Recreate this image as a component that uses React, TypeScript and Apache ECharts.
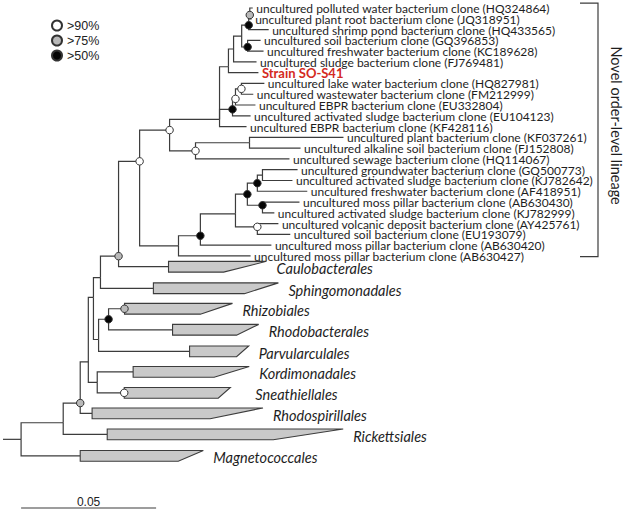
import React, { useEffect, useRef } from "react";
import * as echarts from "echarts";

// ---------- data ----------
const LEAF_IDS = [
  "l1", "l2", "l3", "l4", "l5", "l6", "strain", "l8", "l9", "l10", "l11", "l12",
  "l13", "l14", "l15", "l16", "l17", "l18", "l19", "l20", "l21", "l22", "l23", "l24",
];
const LEAF_LABELS = [
  "uncultured polluted water bacterium clone (HQ324864)",
  "uncultured plant root bacterium clone (JQ318951)",
  "uncultured shrimp pond bacterium clone (HQ433565)",
  "uncultured soil bacterium clone (GQ396853)",
  "uncultured freshwater bacterium clone (KC189628)",
  "uncultured sludge bacterium clone (FJ769481)",
  "Strain SO-S41",
  "uncultured lake water bacterium clone (HQ827981)",
  "uncultured wastewater bacterium clone (FM212999)",
  "uncultured EBPR bacterium clone (EU332804)",
  "uncultured activated sludge bacterium clone (EU104123)",
  "uncultured EBPR bacterium clone (KF428116)",
  "uncultured plant bacterium clone (KF037261)",
  "uncultured alkaline soil bacterium clone (FJ152808)",
  "uncultured sewage bacterium clone (HQ114067)",
  "uncultured groundwater bacterium clone (GQ500773)",
  "uncultured activated sludge bacterium clone (KJ782642)",
  "uncultured freshwater bacterium clone (AF418951)",
  "uncultured moss pillar bacterium clone (AB630430)",
  "uncultured activated sludge bacterium clone (KJ782999)",
  "uncultured volcanic deposit bacterium clone (AY425761)",
  "uncultured soil bacterium clone (EU193079)",
  "uncultured moss pillar bacterium clone (AB630420)",
  "uncultured moss pillar bacterium clone (AB630427)",
];
const FOCAL_LEAF = "strain";

// [node, parent, branch length (substitutions/site), bootstrap class w=>90 g=>75 b=>50]
const EDGES: [string, string, number, string][] = [
  ["root", "", 0.0067, ""],
  ["A", "root", 0.0156, ""],
  ["Mag", "root", 0.0219, ""],
  ["B", "A", 0.0063, "g"],
  ["Ric", "A", 0.0163, ""],
  ["C", "B", 0.003, ""],
  ["Rsp", "B", 0.0044, ""],
  ["D", "C", 0.0019, ""],
  ["E", "C", 0.0033, ""],
  ["F", "D", 0.0026, ""],
  ["G", "D", 0.0019, ""],
  ["H", "F", 0.0067, "g"],
  ["Sph", "F", 0.0196, ""],
  ["J", "H", 0.0078, "w"],
  ["Cau", "H", 0.0185, ""],
  ["K", "J", 0.0111, "w"],
  ["L", "J", 0.0144, ""],
  ["Q1", "K", 0.0185, ""],
  ["N", "K", 0.0096, "w"],
  ["R", "Q1", 0.0033, ""],
  ["S3", "Q1", 0.0048, "b"],
  ["l12", "Q1", 0.01, ""],
  ["R2", "R", 0.0019, ""],
  ["strain", "R", 0.0111, ""],
  ["P", "R2", 0.003, ""],
  ["l6", "R2", 0.0085, ""],
  ["P1", "P", 0.0026, "b"],
  ["P2", "P", 0.0022, "b"],
  ["P0", "P1", 0.0004, "g"],
  ["l3", "P1", 0.0074, ""],
  ["l1", "P0", 0.0011, ""],
  ["l2", "P0", 0.0007, ""],
  ["l4", "P2", 0.0048, ""],
  ["l5", "P2", 0.0059, ""],
  ["S2", "S3", 0.0011, "w"],
  ["l11", "S3", 0.0067, ""],
  ["S1", "S2", 0.0022, "w"],
  ["l10", "S2", 0.0074, ""],
  ["l8", "S1", 0.0085, ""],
  ["l9", "S1", 0.0044, ""],
  ["N2", "N", 0.02, ""],
  ["l15", "N", 0.0348, ""],
  ["l13", "N2", 0.0348, ""],
  ["l14", "N2", 0.0189, ""],
  ["T", "L", 0.0081, "b"],
  ["l24", "L", 0.0267, ""],
  ["U", "T", 0.013, ""],
  ["l23", "T", 0.0263, ""],
  ["V", "U", 0.0044, "b"],
  ["W", "U", 0.0081, "w"],
  ["X", "V", 0.0037, "b"],
  ["Y", "V", 0.0056, "b"],
  ["X2", "X", 0.0019, ""],
  ["l18", "X", 0.0185, ""],
  ["l16", "X2", 0.013, ""],
  ["l17", "X2", 0.0111, ""],
  ["l19", "Y", 0.0137, ""],
  ["l20", "Y", 0.0044, ""],
  ["l21", "W", 0.0078, ""],
  ["l22", "W", 0.0122, ""],
  ["I", "G", 0.0037, "b"],
  ["Par", "G", 0.0337, ""],
  ["Rhz", "I", 0.0059, "g"],
  ["Rhb", "I", 0.0237, ""],
  ["Kor", "E", 0.0133, ""],
  ["Sne", "E", 0.01, "w"],
];

// collapsed orders
const CLADE_IDS = ["Cau", "Sph", "Rhz", "Rhb", "Par", "Kor", "Sne", "Rsp", "Ric", "Mag"];
const CLADE_NAMES = [
  "Caulobacterales", "Sphingomonadales", "Rhizobiales", "Rhodobacterales", "Parvularculales",
  "Kordimonadales", "Sneathiellales", "Rhodospirillales", "Rickettsiales", "Magnetococcales",
];
const CLADE_ROWS = [24, 26, 27.9, 29.85, 31.85, 33.75, 35.7, 37.6, 39.55, 41.55];
const CLADE_DEEPEST = [0.0363, 0.0463, 0.04, 0.0319, 0.0219, 0.043, 0.0393, 0.0633, 0.0874, 0.0456];
const CLADE_SHALLOWEST = [0.0204, 0.0337, 0.0281, 0.0237, 0.0174, 0.03, 0.0348, 0.0437, 0.0615, 0.0363];

const SUPPORT_CLASSES = ["w", "g", "b"];
const SUPPORT_LABELS = [">90%", ">75%", ">50%"];
const SCALE_BAR_LENGTH = 0.05;
const BRACKET_LABEL = "Novel order-level lineage";

// ---------- layout / style ----------
const W = 625;
const H = 513;
const PX_PER_UNIT = 2700;
const ROW_PX = 10.78;
const X0_PX = 3;
const Y0_PX = 8;
const NODE_ANCHOR: Record<string, number> = {
  A: 0.63, B: 0.8, C: 0.76, D: 0.32, F: 0.67, G: 0.63, H: 0.9, J: 0.27, K: 0.34,
  Q1: 0.88, R: 0.75, P1: 0.7, P0: 0.65, P2: 0.62, S2: 0.62, S3: 0.62, T: 0.7, U: 0.6,
  W: 0.3, Y: 0.3,
};
const CLADE_LABEL_GAP: Record<string, number> = { Sne: 25 };
const LINE = "#3c3c3c";
const TEXT = "#1e1e1e";
const SUPPORT_FILL: Record<string, string> = { w: "#ffffff", g: "#b9b9b9", b: "#050505" };
const TREE_FONT = "Lato";
const PLAIN_FONT = "Liberation Sans";

function layoutTree() {
  const len: Record<string, number> = {};
  const support: Record<string, string> = {};
  const children: Record<string, string[]> = {};
  EDGES.forEach(([id, p, l, s]) => {
    len[id] = l;
    support[id] = s;
    if (p) (children[p] = children[p] || []).push(id);
  });
  const rowOf: Record<string, number> = {};
  LEAF_IDS.forEach((id, i) => (rowOf[id] = i));
  CLADE_IDS.forEach((id, i) => (rowOf[id] = CLADE_ROWS[i]));
  const x: Record<string, number> = {};
  const y: Record<string, number> = {};
  const visit = (id: string, px: number) => {
    x[id] = px + len[id];
    const ch = children[id];
    if (!ch) {
      y[id] = rowOf[id];
      return;
    }
    ch.forEach((c) => visit(c, x[id]));
    const ys = ch.map((c) => y[c]);
    const lo = Math.min(...ys);
    const hi = Math.max(...ys);
    y[id] = lo + (NODE_ANCHOR[id] ?? 0.5) * (hi - lo);
  };
  visit("root", 0);
  return { children, support, x, y };
}

function buildOption() {
  const { children, x, y } = layoutTree();

  const branches: any[] = [{ coords: [[0, y.root], [x.root, y.root]] }];
  Object.keys(children).forEach((p) => {
    children[p].forEach((c) => {
      branches.push({ coords: [[x[p], y[p]], [x[p], y[c]], [x[c], y[c]]] });
    });
  });

  const leafData = LEAF_IDS.map((id, i) => [x[id], y[id], i]);
  const cladeData = CLADE_IDS.map((id, i) => [
    x[id], CLADE_ROWS[i], x[id] + CLADE_DEEPEST[i], x[id] + CLADE_SHALLOWEST[i], i,
  ]);

  const supportSeries = SUPPORT_CLASSES.map((cls, k) => ({
    type: "scatter",
    name: SUPPORT_LABELS[k],
    data: EDGES.filter((e) => e[3] === cls).map((e) => [x[e[0]], y[e[0]]]),
    symbol: "circle",
    symbolSize: 7.5,
    itemStyle: { color: SUPPORT_FILL[cls], borderColor: "#333", borderWidth: 1, opacity: 1 },
    z: 6,
    silent: true,
  }));

  const rowTop = -0.45;
  const rowBottom = LEAF_IDS.length - 1 + 0.07;
  const bracketOuter = (598 - X0_PX) / PX_PER_UNIT;
  const bracketInner = (580 - X0_PX) / PX_PER_UNIT;
  const scaleRow = (508 - Y0_PX) / ROW_PX;
  const scaleStart = x.root;

  return {
    backgroundColor: "#ffffff",
    animation: false,
    grid: { left: 0, right: 0, top: 0, bottom: 0 },
    xAxis: {
      type: "value",
      show: false,
      min: -X0_PX / PX_PER_UNIT,
      max: (W - X0_PX) / PX_PER_UNIT,
    },
    yAxis: {
      type: "value",
      show: false,
      inverse: true,
      min: -Y0_PX / ROW_PX,
      max: (H - Y0_PX) / ROW_PX,
    },
    legend: {
      show: true,
      orient: "vertical",
      left: 46,
      top: 14,
      itemWidth: 10,
      itemHeight: 10,
      itemGap: 2,
      icon: "circle",
      selectedMode: false,
      data: SUPPORT_LABELS,
      textStyle: { fontFamily: PLAIN_FONT, fontSize: 12.5, color: "#222" },
    },
    series: [
      {
        type: "lines",
        coordinateSystem: "cartesian2d",
        polyline: true,
        silent: true,
        z: 2,
        lineStyle: { color: LINE, width: 1.2, opacity: 1 },
        data: branches,
      },
      {
        type: "custom",
        coordinateSystem: "cartesian2d",
        silent: true,
        z: 3,
        data: cladeData,
        renderItem: (_p: any, api: any) => {
          const l = api.value(0), r = api.value(1), t = api.value(2), s = api.value(3);
          const pts = [
            api.coord([l, r - 0.5]),
            api.coord([t, r - 0.5]),
            api.coord([s, r + 0.5]),
            api.coord([l, r + 0.5]),
          ];
          return {
            type: "polygon",
            shape: { points: pts },
            style: { fill: "#c9c9c9", stroke: LINE, lineWidth: 1.1 },
          };
        },
      },
      {
        type: "custom",
        coordinateSystem: "cartesian2d",
        silent: true,
        z: 4,
        data: cladeData,
        renderItem: (_p: any, api: any) => {
          const i = api.value(4);
          const pt = api.coord([api.value(2), api.value(1)]);
          return {
            type: "text",
            x: pt[0] + (CLADE_LABEL_GAP[CLADE_IDS[i]] ?? 10),
            y: pt[1] + 2,
            style: {
              text: CLADE_NAMES[i],
              fontFamily: TREE_FONT,
              fontStyle: "italic",
              fontSize: 14.5,
              fill: TEXT,
              align: "left",
              verticalAlign: "middle",
            },
          };
        },
      },
      {
        type: "custom",
        coordinateSystem: "cartesian2d",
        silent: true,
        z: 4,
        data: leafData,
        renderItem: (_p: any, api: any) => {
          const i = api.value(2);
          const pt = api.coord([api.value(0), api.value(1)]);
          const focal = LEAF_IDS[i] === FOCAL_LEAF;
          return {
            type: "text",
            x: pt[0] + 3.5,
            y: pt[1] + 0.5,
            style: {
              text: LEAF_LABELS[i],
              fontFamily: TREE_FONT,
              fontSize: focal ? 13 : 12,
              lineHeight: 10,
              fontWeight: focal ? "bold" : "normal",
              fill: focal ? "#d42a22" : TEXT,
              align: "left",
              verticalAlign: "middle",
            },
          };
        },
      },
      {
        type: "lines",
        coordinateSystem: "cartesian2d",
        polyline: true,
        silent: true,
        z: 2,
        lineStyle: { color: LINE, width: 1.2, opacity: 1 },
        data: [
          { coords: [[bracketInner, rowTop], [bracketOuter, rowTop], [bracketOuter, rowBottom], [bracketInner, rowBottom]] },
          { coords: [[scaleStart, scaleRow], [scaleStart + SCALE_BAR_LENGTH, scaleRow]] },
        ],
      },
      {
        type: "custom",
        coordinateSystem: "cartesian2d",
        silent: true,
        z: 4,
        data: [[bracketOuter, (rowTop + rowBottom) / 2 - 0.4, 0], [scaleStart + SCALE_BAR_LENGTH / 2, scaleRow - 0.6, 1]],
        renderItem: (_p: any, api: any) => {
          const pt = api.coord([api.value(0), api.value(1)]);
          if (api.value(2) === 0) {
            return {
              type: "text",
              x: pt[0] + 18,
              y: pt[1],
              rotation: -Math.PI / 2,
              style: {
                text: BRACKET_LABEL,
                fontFamily: TREE_FONT,
                fontSize: 14.5,
                fill: TEXT,
                align: "center",
                verticalAlign: "middle",
              },
            };
          }
          return {
            type: "text",
            x: pt[0],
            y: pt[1],
            style: {
              text: String(SCALE_BAR_LENGTH),
              fontFamily: PLAIN_FONT,
              fontSize: 12,
              fill: "#222",
              align: "center",
              verticalAlign: "middle",
            },
          };
        },
      },
      ...supportSeries,
    ],
  };
}

export default function App() {
  const ref = useRef<HTMLDivElement>(null);
  useEffect(() => {
    if (!ref.current) return;
    const chart = echarts.init(ref.current, undefined, { renderer: "svg" });
    chart.setOption(buildOption() as any);
    return () => chart.dispose();
  }, []);
  return (
    <div
      ref={ref}
      style={{ position: "fixed", left: 0, top: 0, width: W, height: H, background: "#fff" }}
    />
  );
}
